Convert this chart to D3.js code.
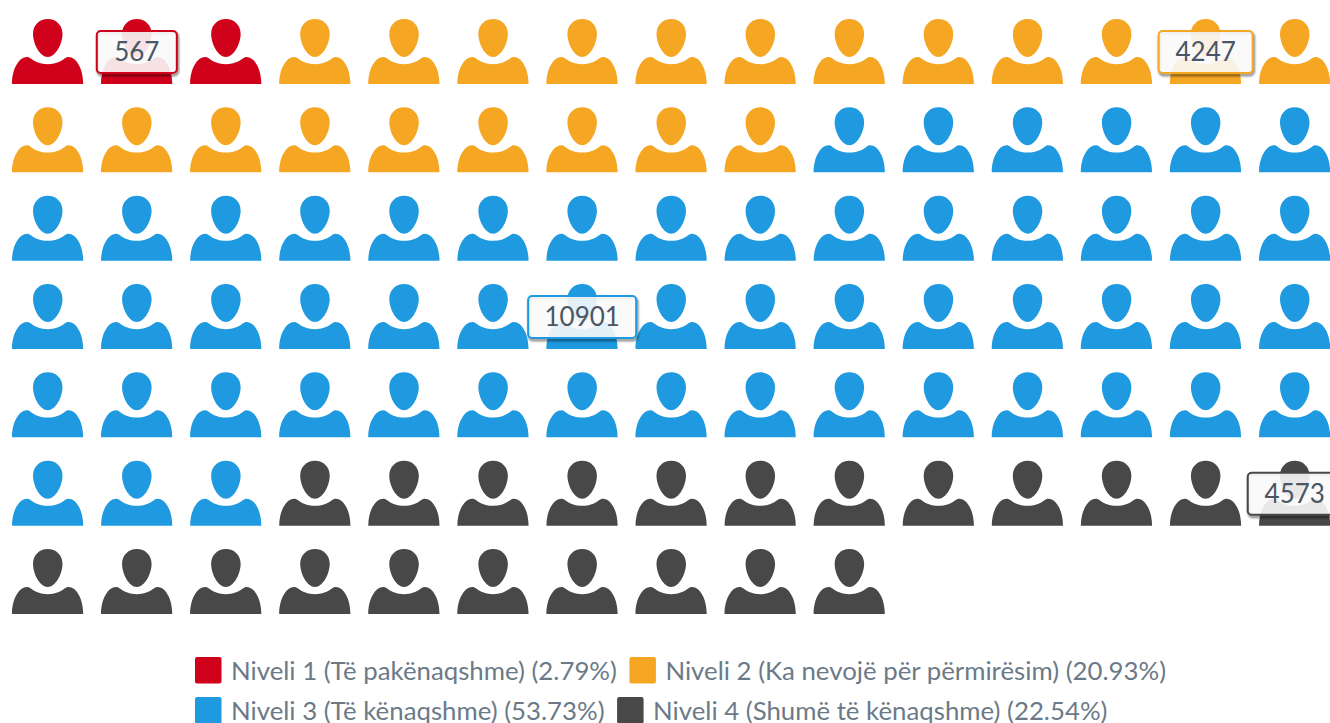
<!DOCTYPE html>
<html>
<head>
<meta charset="utf-8">
<script src="https://cdn.jsdelivr.net/npm/d3@7/dist/d3.min.js"></script>
<style>
html,body{margin:0;padding:0;background:#fff;overflow:hidden}
svg{display:block;font-family:Lato,"Open Sans",sans-serif}
.tip-shadow{filter:blur(1.2px)}
</style>
</head>
<body>
<svg id="c" width="1330" height="723"></svg>
<script>
const categories = ["Niveli 1 (Të pakënaqshme)", "Niveli 2 (Ka nevojë për përmirësim)", "Niveli 3 (Të kënaqshme)", "Niveli 4 (Shumë të kënaqshme)"];
const values = [567, 4247, 10901, 4573];
const percents = ["2.79%", "20.93%", "53.73%", "22.54%"];
const iconCounts = [3, 21, 54, 22];
const colors = ["#d0021b", "#f5a623", "#1f9ae0", "#484848"];
const legendRows = [[0, 1], [2, 3]];

const COLS = 15, ICON_W = 71.5, ICON_H = 65;
const svg = d3.select("#c");

const x = d3.scaleLinear().domain([0, COLS - 1]).range([12, 1259]);
const y = d3.scaleLinear().domain([0, 6]).range([19, 549]);

const personPath =
  "M0,65 C0,50 7,38 15,38 C16.5,38 17.5,38.6 18.5,39.3 C23,43 29,45.2 35.8,45.2 C42.5,45.2 48.5,43 53,39.3 C54,38.6 55,38 56.5,38 C64.5,38 71.2,50 71.2,65 Z " +
  "M35.8,0 C44,0 50.5,6 50.5,15 C50.5,25 43.5,38 35.8,38 C28,38 21,25 21,15 C21,6 27.5,0 35.8,0 Z";

const icons = categories.flatMap((c, s) => d3.range(iconCounts[s]).map(k => ({s, k})));
icons.forEach((d, i) => { d.col = i % COLS; d.row = Math.floor(i / COLS); });

svg.append("g").selectAll("path").data(icons).join("path")
  .attr("d", personPath)
  .attr("transform", d => `translate(${x(d.col)},${y(d.row)})`)
  .attr("fill", d => colors[d.s]);

// value labels: centred on the middle icon of each series
const labelWidths = [80, 94, 108, 94];
const labels = icons.filter(d => d.k === Math.floor(iconCounts[d.s] / 2));
const lg = svg.append("g").selectAll("g").data(labels).join("g")
  .attr("transform", d => `translate(${x(d.col) + ICON_W / 2},${y(d.row) + ICON_H / 2 + 0.5})`);
lg.append("rect").attr("class", "tip-shadow")
  .attr("x", d => -labelWidths[d.s] / 2 + 1).attr("y", -19)
  .attr("width", d => labelWidths[d.s]).attr("height", 42)
  .attr("rx", 4)
  .attr("fill", "none")
  .attr("stroke", "rgba(0,0,0,0.5)").attr("stroke-width", 2.5);
lg.append("rect")
  .attr("x", d => -labelWidths[d.s] / 2).attr("y", -21)
  .attr("width", d => labelWidths[d.s]).attr("height", 42)
  .attr("rx", 4)
  .attr("fill", "rgba(250,250,250,0.9)")
  .attr("stroke", d => colors[d.s]).attr("stroke-width", 2);
lg.append("text")
  .attr("text-anchor", "middle").attr("y", 9)
  .attr("font-size", 26).attr("fill", "#4a5664")
  .text(d => values[d.s]);

// legend
const legendX = 195, legendY = [657, 697];
legendRows.forEach((row, r) => {
  let cx = legendX;
  row.forEach(s => {
    const g = svg.append("g");
    g.append("rect").attr("x", cx).attr("y", legendY[r]).attr("width", 26.5).attr("height", 26.5)
      .attr("rx", 2).attr("fill", colors[s]);
    const t = g.append("text").attr("x", cx + 36).attr("y", legendY[r] + 23)
      .attr("font-size", 25.8).attr("fill", "#6c7a87")
      .text(`${categories[s]} (${percents[s]})`);
    cx += 36 + t.node().getComputedTextLength() + 12.5;
  });
});
</script>
</body>
</html>
